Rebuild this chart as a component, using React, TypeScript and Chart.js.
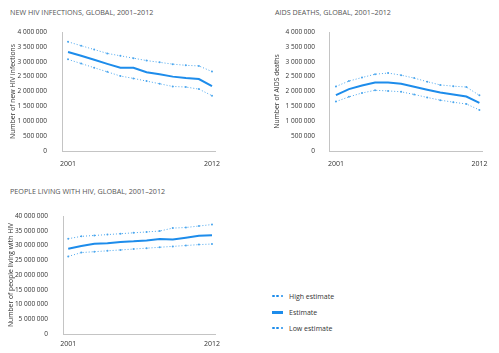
import React, { useEffect, useRef } from "react";
import { Chart, registerables } from "chart.js";

Chart.register(...registerables);

const years = [2001, 2002, 2003, 2004, 2005, 2006, 2007, 2008, 2009, 2010, 2011, 2012];
const xTickYears = [2001, 2012];

const infectionsHigh = [3670000, 3540000, 3410000, 3280000, 3200000, 3120000, 3040000, 2980000, 2920000, 2880000, 2860000, 2670000];
const infectionsEstimate = [3330000, 3200000, 3070000, 2930000, 2800000, 2800000, 2650000, 2580000, 2500000, 2450000, 2420000, 2180000];
const infectionsLow = [3080000, 2940000, 2800000, 2660000, 2520000, 2440000, 2350000, 2260000, 2170000, 2150000, 2080000, 1860000];

const deathsHigh = [2170000, 2350000, 2470000, 2580000, 2620000, 2550000, 2450000, 2330000, 2220000, 2180000, 2150000, 1870000];
const deathsEstimate = [1880000, 2080000, 2200000, 2300000, 2300000, 2260000, 2160000, 2060000, 1970000, 1900000, 1830000, 1620000];
const deathsLow = [1660000, 1820000, 1950000, 2040000, 2020000, 1990000, 1900000, 1800000, 1710000, 1640000, 1580000, 1380000];

const livingHigh = [32300000, 33100000, 33400000, 33700000, 34000000, 34300000, 34600000, 34900000, 35900000, 36100000, 36600000, 37100000];
const livingEstimate = [28900000, 29800000, 30600000, 30800000, 31200000, 31400000, 31700000, 32200000, 32000000, 32600000, 33300000, 33500000];
const livingLow = [26300000, 27600000, 27900000, 28200000, 28500000, 28800000, 29100000, 29400000, 29700000, 30000000, 30300000, 30500000];

const legendLabels = ["High estimate", "Estimate", "Low estimate"];

const FONT = "'Open Sans', 'DejaVu Sans', sans-serif";
const DOT_COLOR = "#4aa6ee";
const LINE_COLOR = "#1d8ceb";
const AXIS_COLOR = "#c4c4c4";

function fmt(v: number): string {
  return Math.round(v).toString().replace(/\B(?=(\d{3})+(?!\d))/g, " ");
}

type PanelProps = {
  left: number;
  top: number;
  width: number;
  height: number;
  yAxisWidth: number;
  titlePad: number;
  tickPad: number;
  xPad: number;
  yTitle: string;
  yMax: number;
  yStep: number;
  xMin: number;
  xMax: number;
  high: number[];
  est: number[];
  low: number[];
};

function Panel(p: PanelProps) {
  const ref = useRef<HTMLCanvasElement | null>(null);
  useEffect(() => {
    if (!ref.current) return;
    const toPts = (arr: number[]) => years.map((y, i) => ({ x: y, y: arr[i] }));
    const chart = new Chart(ref.current, {
      type: "line",
      data: {
        datasets: [
          {
            data: toPts(p.high),
            borderColor: DOT_COLOR,
            backgroundColor: DOT_COLOR,
            borderWidth: 1,
            borderDash: [1, 2],
            pointRadius: 1,
            pointBorderWidth: 0,
            tension: 0,
          },
          {
            data: toPts(p.est),
            borderColor: LINE_COLOR,
            borderWidth: 2,
            pointRadius: 0,
            tension: 0,
          },
          {
            data: toPts(p.low),
            borderColor: DOT_COLOR,
            backgroundColor: DOT_COLOR,
            borderWidth: 1,
            borderDash: [1, 2],
            pointRadius: 1,
            pointBorderWidth: 0,
            tension: 0,
          },
        ],
      },
      options: {
        animation: false,
        responsive: false,
        maintainAspectRatio: false,
        layout: { padding: { top: 4, left: 0, right: 10, bottom: 0 } },
        plugins: { legend: { display: false }, tooltip: { enabled: false } },
        scales: {
          x: {
            type: "linear",
            min: p.xMin,
            max: p.xMax,
            grid: { display: false },
            border: { display: true, color: AXIS_COLOR, width: 1 },
            afterBuildTicks: (s: any) => {
              s.ticks = xTickYears.map((v) => ({ value: v }));
            },
            ticks: {
              callback: (v: any) => String(v),
              font: { family: FONT, size: 7 },
              color: "#333",
              padding: p.xPad,
              maxRotation: 0,
              autoSkip: false,
            },
            afterFit: (s: any) => {
              s.height = 20;
              s.paddingLeft = 0;
              s.paddingRight = 0;
            },
          },
          y: {
            min: 0,
            max: p.yMax,
            grid: { display: false },
            border: { display: true, color: AXIS_COLOR, width: 1 },
            ticks: {
              stepSize: p.yStep,
              callback: (v: any) => fmt(Number(v)),
              font: { family: FONT, size: 6.5 },
              color: "#333",
              padding: p.tickPad,
            },
            title: {
              display: true,
              text: p.yTitle,
              font: { family: FONT, size: 6.8 },
              color: "#333",
              padding: { top: p.titlePad, bottom: 0 },
            },
            afterFit: (s: any) => {
              s.width = p.yAxisWidth;
              s.paddingTop = 0;
              s.paddingBottom = 0;
            },
          },
        },
      } as any,
    });
    return () => chart.destroy();
  }, []);
  return (
    <canvas
      ref={ref}
      width={p.width}
      height={p.height}
      style={{ position: "absolute", left: p.left, top: p.top, width: p.width, height: p.height }}
    />
  );
}

const titleStyle: React.CSSProperties = {
  position: "absolute",
  fontFamily: FONT,
  fontSize: 7.2,
  color: "#555",
  whiteSpace: "nowrap",
  lineHeight: 1,
};

function LegendItem({ label, solid, top }: { label: string; solid: boolean; top: number }) {
  return (
    <div style={{ position: "absolute", left: 272, top: top - 5, height: 10, display: "flex", alignItems: "center" }}>
      {solid ? (
        <div style={{ width: 11, height: 3, background: LINE_COLOR }} />
      ) : (
        <div style={{ width: 11, display: "flex", justifyContent: "space-between" }}>
          <div style={{ width: 2.5, height: 2.5, borderRadius: 2, background: LINE_COLOR }} />
          <div style={{ width: 2.5, height: 2.5, borderRadius: 2, background: LINE_COLOR }} />
          <div style={{ width: 2.5, height: 2.5, borderRadius: 2, background: LINE_COLOR }} />
        </div>
      )}
      <span style={{ marginLeft: 6, fontFamily: FONT, fontSize: 7, color: "#333", whiteSpace: "nowrap" }}>{label}</span>
    </div>
  );
}

export default function App() {
  return (
    <div
      style={{
        position: "fixed",
        left: 0,
        top: 0,
        width: 499,
        height: 353,
        background: "#fff",
        overflow: "hidden",
      }}
    >
      <div style={{ ...titleStyle, left: 10, top: 9 }}>NEW HIV INFECTIONS, GLOBAL, 2001–2012</div>
      <div style={{ ...titleStyle, left: 275, top: 9 }}>AIDS DEATHS, GLOBAL, 2001–2012</div>
      <div style={{ ...titleStyle, left: 10, top: 188 }}>PEOPLE LIVING WITH HIV, GLOBAL, 2001–2012</div>

      <Panel
        left={0}
        top={28}
        width={225}
        height={143}
        yAxisWidth={62}
        titlePad={9}
        tickPad={7}
        xPad={1}
        yTitle="Number of new HIV infections"
        yMax={4000000}
        yStep={500000}
        xMin={2000.54}
        xMax={2012.23}
        high={infectionsHigh}
        est={infectionsEstimate}
        low={infectionsLow}
      />
      <Panel
        left={262}
        top={28}
        width={230}
        height={143}
        yAxisWidth={67}
        titlePad={11}
        tickPad={6}
        xPad={1}
        yTitle="Number of AIDS deaths"
        yMax={4000000}
        yStep={500000}
        xMin={2000.47}
        xMax={2012.2}
        high={deathsHigh}
        est={deathsEstimate}
        low={deathsLow}
      />
      <Panel
        left={0}
        top={212}
        width={225}
        height={142}
        yAxisWidth={63}
        titlePad={7}
        tickPad={7}
        xPad={-2}
        yTitle="Number of people living with HIV"
        yMax={40000000}
        yStep={5000000}
        xMin={2000.6}
        xMax={2012.23}
        high={livingHigh}
        est={livingEstimate}
        low={livingLow}
      />

      <LegendItem label={legendLabels[0]} solid={false} top={296} />
      <LegendItem label={legendLabels[1]} solid={true} top={312} />
      <LegendItem label={legendLabels[2]} solid={false} top={328} />
    </div>
  );
}
